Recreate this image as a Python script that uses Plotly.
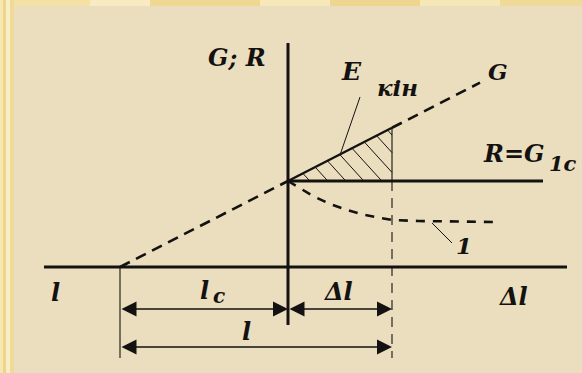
import plotly.graph_objects as go

# Diagram quantities (drawing units, origin where the two axes cross)
l_c = 168          # crack length l_c
delta_l = 104      # increment Δl
G_1c = 86          # critical value G_1c (= R)
G_end_x = 192      # right end of the G line

# Curve "1" (dashed), x and value pairs
curve1_x = [0, 12, 25, 42, 59, 77, 92, 104, 130, 209]
curve1_y = [86, 79, 71, 63, 57, 52, 49, 47, 46, 45]

# Hatch line offsets (x + y/k = const) inside the energy triangle
hatch_k = 1.1
hatch_c = [100, 118, 136, 154, 172, 190, 208, 224]

# Axis extents
x_axis = [-244, 279]
y_axis_top = 224
y_axis_bottom = -58
dim_y1 = -42
dim_y2 = -80
ext_bottom = -91

W, H = 582, 373
ox, oy = 288, 267  # pixel position of the origin

INK = "#141210"
FONT = "DejaVu Serif"


def G(x):
    return G_1c * (1 + x / l_c)


fig = go.Figure()


def line(xs, ys, width=2.0, dash="solid", color=INK):
    fig.add_trace(go.Scatter(x=xs, y=ys, mode="lines",
                             line=dict(color=color, width=width, dash=dash),
                             hoverinfo="skip", showlegend=False))


# axes
line(x_axis, [0, 0], width=3)
line([0, 0], [y_axis_bottom, y_axis_top], width=3)

# G line: dashed left of the origin, solid over Δl, dashed beyond
line([-l_c, 0], [0, G(0)], width=2.6, dash="11px,7px")
line([0, delta_l], [G(0), G(delta_l)], width=2.4)
line([delta_l, G_end_x], [G(delta_l), G(G_end_x)], width=2.6, dash="11px,7px")

# R = G_1c horizontal line
line([0, 255], [G_1c, G_1c], width=3)

# curve 1
line(curve1_x, curve1_y, width=2.6, dash="9px,8px")

# vertical at Δl: solid inside triangle, dashed below
line([delta_l, delta_l], [G(delta_l), G_1c], width=1.1)
line([delta_l, delta_l], [G_1c, ext_bottom], width=1.1, dash="10px,7px")

# left extension line at -l_c
line([-l_c, -l_c], [0, ext_bottom], width=1.1)

# hatching of the triangle (0,G_1c)-(Δl,G(Δl))-(Δl,G_1c)
slope = G_1c / l_c
for c in hatch_c:
    pts = []
    xr = c - G_1c / hatch_k                      # on R line
    if 0 <= xr <= delta_l:
        pts.append((xr, G_1c))
    xg = (c - G_1c / hatch_k) / (1 + slope / hatch_k)  # on G line
    if 0 <= xg <= delta_l:
        pts.append((xg, G(xg)))
    yv = (c - delta_l) * hatch_k                 # on vertical x = Δl
    if G_1c <= yv <= G(delta_l) and len(pts) < 2:
        pts.append((delta_l, yv))
    if len(pts) == 2:
        line([pts[0][0], pts[1][0]], [pts[0][1], pts[1][1]], width=1.0)

# leader lines
line([72, 52], [170, 112], width=1.0)
line([144, 164], [44, 24], width=1.0)

annotations = []


def dim_arrow(x0, x1, y):
    annotations.append(dict(x=x1, y=y, ax=x0, ay=y, xref="x", yref="y",
                            axref="x", ayref="y", text="", showarrow=True,
                            arrowhead=2, startarrowhead=2, arrowside="end+start",
                            arrowsize=2.0, startarrowsize=2.0, arrowwidth=1.5,
                            arrowcolor=INK))


dim_arrow(-l_c, 0, dim_y1)
dim_arrow(0, delta_l, dim_y1)
dim_arrow(-l_c, delta_l, dim_y2)


def label(x, y, text, size):
    annotations.append(dict(x=x, y=y, xref="x", yref="y", text=text,
                            showarrow=False,
                            font=dict(family=FONT, size=size, color=INK,
                                      style="italic", weight="bold"),
                            xanchor="center", yanchor="middle"))


label(-51, 210, "G; R", 24)
label(63, 196, "E", 25)
label(109, 180, "кін", 23)
label(210, 196, "G", 23)
label(226, 114, "R=G", 24)
label(275, 104, "1c", 21)
label(176, 22, "1", 23)
label(-233, -25, "l", 24)
label(-84, -23, "l", 24)
label(-69, -29, "c", 20)
label(50, -24, "Δl", 24)
label(-42, -64, "l", 24)
label(225, -29, "Δl", 24)

# background: striped yellow frame and beige panel
shapes = []
frame_stripes = [(0, 3, "#F6E6B0"), (3, 6, "#EED58C"), (6, 10, "#F9EDC6"), (10, 14, "#F0DA98")]
for a, b, col in frame_stripes:
    shapes.append(dict(type="rect", xref="paper", yref="paper", x0=a / W, x1=b / W,
                       y0=0, y1=1, fillcolor=col, line_width=0, layer="below"))
top_stripes = [(14, 90, "#F3E1A6"), (90, 150, "#F8EBC2"), (150, 260, "#EFD893"),
               (260, 330, "#F7E8BA"), (330, 420, "#EED690"), (420, 500, "#F6E7B6"),
               (500, 582, "#F0DA9A")]
for a, b, col in top_stripes:
    shapes.append(dict(type="rect", xref="paper", yref="paper", x0=a / W, x1=b / W,
                       y0=1 - 6 / H, y1=1, fillcolor=col, line_width=0, layer="below"))
shapes.append(dict(type="rect", xref="paper", yref="paper", x0=14 / W, x1=1,
                   y0=0, y1=1 - 6 / H, fillcolor="#EBDEBE", line_width=0, layer="below"))

fig.update_layout(
    width=W, height=H,
    margin=dict(l=0, r=0, t=0, b=0),
    font=dict(family=FONT),
    paper_bgcolor="#F2DEA0",
    plot_bgcolor="rgba(0,0,0,0)",
    xaxis=dict(range=[-ox, W - ox], visible=False, fixedrange=True),
    yaxis=dict(range=[oy - H, oy], visible=False, fixedrange=True),
    shapes=shapes,
    annotations=annotations,
    showlegend=False,
)

fig.write_html("out.html")
